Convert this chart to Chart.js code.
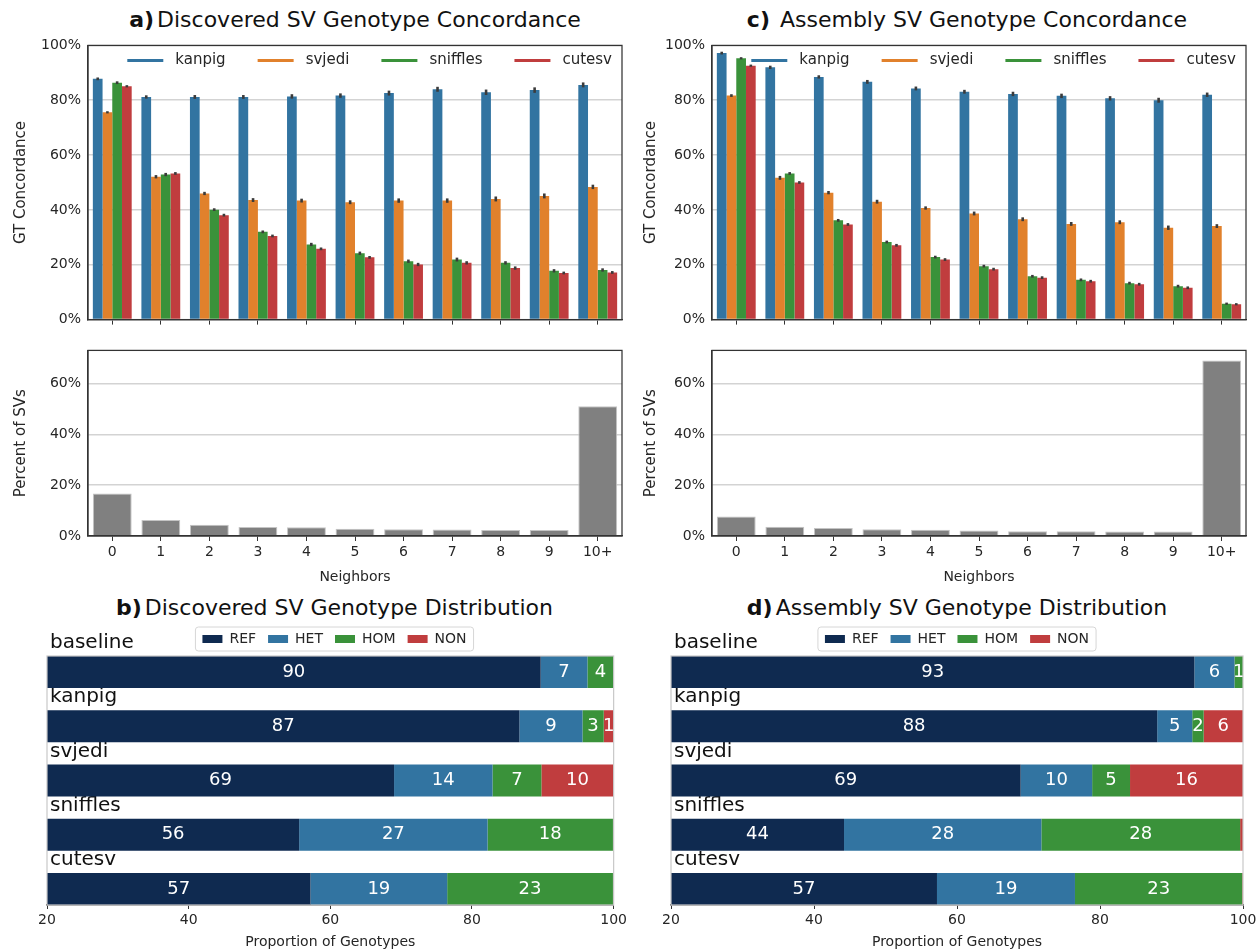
<!DOCTYPE html>
<html>
<head>
<meta charset="utf-8">
<script src="https://cdn.jsdelivr.net/npm/chart.js@4.4.1/dist/chart.umd.min.js"></script>
<style>
  body { margin: 0; background: #fff; }
  #fig { position: relative; width: 1260px; height: 951px; font-family: 'DejaVu Sans', sans-serif; color: #111; }
  #fig canvas { position: absolute; }
  .ttl { position: absolute; font-size: 22px; line-height: 28px; text-align: center; white-space: nowrap; }
  .ttl b { margin-right: 3px; }
</style>
</head>
<body>
<div id="fig">
  <div class="ttl" style="left:88px;top:6px;width:534px"><b>a)</b>Discovered SV Genotype Concordance</div>
  <div class="ttl" style="left:700px;top:6px;width:534px"><b>c)</b> Assembly SV Genotype Concordance</div>
  <div class="ttl" style="left:47px;top:594px;width:575px"><b>b)</b>Discovered SV Genotype Distribution</div>
  <div class="ttl" style="left:671px;top:594px;width:572px"><b>d)</b>Assembly SV Genotype Distribution</div>

  <canvas id="concA" width="630" height="305" style="left:0;top:30px"></canvas>
  <canvas id="nbA" width="630" height="252" style="left:0;top:335px"></canvas>
  <canvas id="concC" width="630" height="305" style="left:630px;top:30px"></canvas>
  <canvas id="nbC" width="630" height="252" style="left:630px;top:335px"></canvas>
  <canvas id="distB" width="630" height="331" style="left:0;top:620px"></canvas>
  <canvas id="distD" width="630" height="331" style="left:630px;top:620px"></canvas>
</div>
<script>
// ── Data ───────────────────────────────────────────────────────────────
const NEIGHBORS = ["0", "1", "2", "3", "4", "5", "6", "7", "8", "9", "10+"];
const TOOLS = ["kanpig", "svjedi", "sniffles", "cutesv"];

// a) discovered SVs, GT concordance (%) and error half-widths
const A_KANPIG   = [87.8, 81.2, 81.2, 81.2, 81.4, 81.7, 82.6, 84.0, 82.9, 83.7, 85.6];
const A_SVJEDI   = [75.6, 52.1, 46.0, 43.6, 43.4, 42.8, 43.4, 43.4, 44.0, 45.1, 48.4];
const A_SNIFFLES = [86.4, 52.9, 40.1, 32.0, 27.4, 24.2, 21.3, 21.9, 20.7, 17.8, 18.1];
const A_CUTESV   = [85.1, 53.3, 38.1, 30.5, 25.8, 22.7, 20.1, 20.7, 18.8, 17.0, 17.2];
const A_KANPIG_ERR   = [0.5, 0.6, 0.7, 0.7, 0.8, 0.8, 0.9, 0.9, 1.0, 1.0, 0.9];
const A_SVJEDI_ERR   = [0.4, 0.6, 0.6, 0.7, 0.7, 0.7, 0.8, 0.8, 0.9, 0.9, 0.8];
const A_SNIFFLES_ERR = [0.5, 0.6, 0.5, 0.5, 0.6, 0.6, 0.6, 0.7, 0.6, 0.6, 0.6];
const A_CUTESV_ERR   = [0.4, 0.5, 0.5, 0.5, 0.5, 0.5, 0.6, 0.6, 0.6, 0.5, 0.5];

// c) assembly SVs
const C_KANPIG   = [97.2, 92.0, 88.5, 86.7, 84.3, 83.1, 82.3, 81.6, 80.7, 80.0, 82.0];
const C_SVJEDI   = [81.7, 51.7, 46.3, 43.0, 40.7, 38.7, 36.6, 34.9, 35.5, 33.5, 34.1];
const C_SNIFFLES = [95.3, 53.3, 36.2, 28.3, 22.8, 19.5, 15.8, 14.5, 13.3, 12.2, 5.8];
const C_CUTESV   = [92.6, 50.0, 34.7, 27.1, 21.9, 18.4, 15.3, 14.0, 12.9, 11.6, 5.6];
const C_KANPIG_ERR   = [0.5, 0.6, 0.6, 0.7, 0.7, 0.7, 0.8, 0.8, 0.8, 0.9, 0.8];
const C_SVJEDI_ERR   = [0.5, 0.7, 0.6, 0.7, 0.6, 0.7, 0.7, 0.7, 0.7, 0.8, 0.7];
const C_SNIFFLES_ERR = [0.4, 0.5, 0.5, 0.5, 0.5, 0.5, 0.5, 0.5, 0.5, 0.5, 0.4];
const C_CUTESV_ERR   = [0.4, 0.5, 0.5, 0.5, 0.5, 0.5, 0.5, 0.5, 0.5, 0.5, 0.4];

// share of SVs per neighbour count (%)
const A_PCT = [16.7, 6.3, 4.4, 3.5, 3.4, 2.9, 2.7, 2.6, 2.4, 2.4, 51.0];
const C_PCT = [7.7, 3.6, 3.1, 2.7, 2.5, 2.2, 1.9, 1.9, 1.8, 1.8, 69.0];

// b/d) genotype distribution (% of genotypes)
const CALLERS = ["baseline", "kanpig", "svjedi", "sniffles", "cutesv"];
const GT = ["REF", "HET", "HOM", "NON"];
const B_REF = [89.7, 86.7, 69.0, 55.6, 57.2];
const B_HET = [6.6, 8.9, 13.9, 26.6, 19.3];
const B_HOM = [3.7, 3.0, 6.9, 17.7, 23.4];
const B_NON = [0.0, 1.4, 10.2, 0.1, 0.1];
const D_REF = [93.2, 88.0, 68.9, 44.2, 57.2];
const D_HET = [5.6, 4.9, 10.0, 27.6, 19.3];
const D_HOM = [1.2, 1.6, 5.3, 27.8, 23.4];
const D_NON = [0.0, 5.5, 15.8, 0.4, 0.1];

// ── Look ──────────────────────────────────────────────────────────────
Chart.defaults.font.family = "'DejaVu Sans', sans-serif";
Chart.defaults.color = "#262626";
Chart.defaults.animation = false;
const INK = "#262626";
const SPINE = "#333";
const GRID = "#d3d3d3";
const TOOL_COL = ["#3274a1", "#e1812c", "#3a923a", "#c03d3e"];
const GT_COL = ["#0f2a50", "#3274a1", "#3a923a", "#c03d3e"];

// ── Small plugins ─────────────────────────────────────────────────────
const frame = {                           // box round the plot area
  id: "frame",
  afterDraw(chart, _a, o) {
    if (!o.color) return;
    const { ctx, chartArea: a } = chart;
    ctx.save();
    ctx.strokeStyle = o.color; ctx.lineWidth = o.width;
    ctx.strokeRect(a.left, a.top, a.right - a.left, a.bottom - a.top);
    ctx.restore();
  },
};

const errBars = {                         // +/- err whiskers on each bar
  id: "errBars",
  afterDatasetsDraw(chart) {
    const { ctx, scales: { y } } = chart;
    ctx.save();
    ctx.strokeStyle = "#3b3b3b"; ctx.lineWidth = 2.6;
    chart.data.datasets.forEach((ds, di) => {
      if (!ds.err) return;
      chart.getDatasetMeta(di).data.forEach((bar, i) => {
        const v = ds.data[i], e = ds.err[i];
        ctx.beginPath();
        ctx.moveTo(bar.x, y.getPixelForValue(v - e));
        ctx.lineTo(bar.x, y.getPixelForValue(v + e));
        ctx.stroke();
      });
    });
    ctx.restore();
  },
};

const lineLegend = {                      // matplotlib-style line legend inside the axes
  id: "lineLegend",
  afterDraw(chart, _a, o) {
    if (!o.show) return;
    const { ctx, chartArea: a } = chart;
    ctx.save();
    ctx.font = "15px 'DejaVu Sans'";
    ctx.textBaseline = "middle";
    const items = chart.data.datasets.map((d) => ({ t: d.label, c: d.backgroundColor, w: ctx.measureText(d.label).width }));
    const total = items.reduce((s, it) => s + 48 + it.w, 0) + 32 * (items.length - 1);
    let x = a.right - 10 - total;
    const y = a.top + 15;
    items.forEach((it) => {
      ctx.strokeStyle = it.c; ctx.lineWidth = 3;
      ctx.beginPath(); ctx.moveTo(x, y); ctx.lineTo(x + 36, y); ctx.stroke();
      ctx.fillStyle = INK; ctx.fillText(it.t, x + 48, y);
      x += 48 + it.w + 32;
    });
    ctx.restore();
  },
};

const segLabels = {                       // rounded value centred in the visible part of a segment
  id: "segLabels",
  afterDatasetsDraw(chart) {
    const { ctx, chartArea: a } = chart;
    ctx.save();
    ctx.beginPath(); ctx.rect(a.left, a.top, a.right - a.left, a.bottom - a.top); ctx.clip();
    ctx.font = "18px 'DejaVu Sans'"; ctx.fillStyle = "#fff";
    ctx.textAlign = "center"; ctx.textBaseline = "middle";
    chart.data.datasets.forEach((ds, di) => {
      chart.getDatasetMeta(di).data.forEach((bar, i) => {
        const n = Math.round(ds.data[i].x);
        if (n < 1) return;
        const l = Math.max(Math.min(bar.x, bar.base), a.left);
        const r = Math.min(Math.max(bar.x, bar.base), a.right);
        if (r <= l) return;
        ctx.fillText(String(n), (l + r) / 2, bar.y);
      });
    });
    ctx.restore();
  },
};

const legendBox = {                       // thin rounded frame round the legend
  id: "legendBox",
  afterDraw(chart) {
    const hb = chart.legend && chart.legend.legendHitBoxes;
    if (!hb || !hb.length) return;
    const l = Math.min(...hb.map((h) => h.left)) - 7;
    const r = Math.max(...hb.map((h) => h.left + h.width)) + 7;
    const t = hb[0].top - 5, b = hb[0].top + hb[0].height + 5;
    const { ctx } = chart;
    ctx.save();
    ctx.strokeStyle = "#d6d6d6"; ctx.lineWidth = 1;
    ctx.beginPath(); ctx.roundRect(l, t, r - l, b - t, 3); ctx.stroke();
    ctx.restore();
  },
};

// ── Chart builders ────────────────────────────────────────────────────
function concChart(id, series, errs, yWidth, padRight) {
  return new Chart(document.getElementById(id), {
    type: "bar",
    data: {
      labels: NEIGHBORS,
      datasets: TOOLS.map((name, k) => ({
        label: name, data: series[k], err: errs[k],
        backgroundColor: TOOL_COL[k], categoryPercentage: 0.8, barPercentage: 1,
      })),
    },
    options: {
      responsive: false,
      layout: { padding: { left: 0, right: padRight, top: 10, bottom: 0 } },
      plugins: {
        legend: { display: false }, tooltip: { enabled: false },
        frame: { color: SPINE, width: 1.25 }, lineLegend: { show: true },
      },
      scales: {
        x: {
          ticks: { display: false },
          grid: { drawOnChartArea: false, offset: false, tickLength: 5, tickColor: SPINE },
          border: { color: SPINE, width: 1.25 },
          afterFit: (s) => { s.height = 9; },
        },
        y: {
          min: 0, max: 100,
          ticks: { stepSize: 20, callback: (v) => v + "%", font: { size: 14 }, padding: 7, color: INK },
          grid: { color: GRID, lineWidth: 1.5, drawTicks: false },
          border: { color: SPINE, width: 1.25 },
          title: { display: true, text: "GT Concordance", font: { size: 15 }, color: INK, padding: { top: 12, bottom: 0 } },
          afterFit: (s) => { s.width = yWidth; },
        },
      },
    },
    plugins: [frame, errBars, lineLegend],
  });
}

function neighborChart(id, pct, yWidth, padRight) {
  return new Chart(document.getElementById(id), {
    type: "bar",
    data: {
      labels: NEIGHBORS,
      datasets: [{
        data: pct, backgroundColor: "#808080", borderColor: "#c4c4c4", borderWidth: 1,
        categoryPercentage: 0.8, barPercentage: 1,
      }],
    },
    options: {
      responsive: false,
      layout: { padding: { left: 0, right: padRight, top: 8, bottom: 0 } },
      plugins: { legend: { display: false }, tooltip: { enabled: false }, frame: { color: SPINE, width: 1.25 } },
      scales: {
        x: {
          ticks: { font: { size: 14 }, padding: 3, color: INK },
          grid: { drawOnChartArea: false, offset: false, tickLength: 5, tickColor: SPINE },
          border: { color: SPINE, width: 1.25 },
          title: { display: true, text: "Neighbors", font: { size: 14 }, color: INK, padding: { top: 0, bottom: 1 } },
          afterFit: (s) => { s.height = 51; },
        },
        y: {
          min: 0, max: 73,
          ticks: { stepSize: 20, includeBounds: false, callback: (v) => v + "%", font: { size: 14 }, padding: 7, color: INK },
          grid: { color: GRID, lineWidth: 1.5, drawTicks: false },
          border: { color: SPINE, width: 1.25 },
          title: { display: true, text: "Percent of SVs", font: { size: 15 }, color: INK, padding: { top: 12, bottom: 0 } },
          afterFit: (s) => { s.width = yWidth; },
        },
      },
    },
    plugins: [frame],
  });
}

function distChart(id, parts, padLeft, padRight) {
  return new Chart(document.getElementById(id), {
    type: "bar",
    data: {
      datasets: GT.map((g, k) => ({
        label: g, data: parts[k].map((v, i) => ({ x: v, y: i })),
        backgroundColor: GT_COL[k], categoryPercentage: 1, barPercentage: 0.59,
      })),
    },
    options: {
      indexAxis: "y",
      responsive: false,
      layout: { padding: { left: padLeft, right: padRight, top: 0, bottom: 0 } },
      plugins: {
        legend: { labels: { boxWidth: 20, boxHeight: 8, padding: 12, font: { size: 14 }, color: INK } },
        tooltip: { enabled: false },
        frame: { color: "#c8c8c8", width: 1.2 },
      },
      scales: {
        x: {
          type: "linear", stacked: true, min: 20, max: 100,
          ticks: { stepSize: 20, font: { size: 14 }, padding: 3, color: INK },
          grid: { drawOnChartArea: false, tickLength: 4, tickColor: SPINE },
          border: { color: SPINE, width: 1.5 },
          title: { display: true, text: "Proportion of Genotypes", font: { size: 14 }, color: INK, padding: { top: 0, bottom: 0 } },
          afterFit: (s) => { s.height = 46; },
        },
        y: {
          type: "linear", stacked: true, reverse: true, offset: false, min: -0.295, max: 4.295,
          afterBuildTicks: (s) => { s.ticks = CALLERS.map((_, i) => ({ value: i })); },
          ticks: {
            mirror: true, labelOffset: -29, padding: 3, autoSkip: false,
            font: { size: 20 }, color: "#111", callback: (v) => CALLERS[v],
          },
          grid: { display: false },
          border: { display: false },
          afterFit: (s) => { s.width = 0; },
        },
      },
    },
    plugins: [segLabels, frame, legendBox],
  });
}

concChart("concA", [A_KANPIG, A_SVJEDI, A_SNIFFLES, A_CUTESV],
  [A_KANPIG_ERR, A_SVJEDI_ERR, A_SNIFFLES_ERR, A_CUTESV_ERR], 88, 8);
concChart("concC", [C_KANPIG, C_SVJEDI, C_SNIFFLES, C_CUTESV],
  [C_KANPIG_ERR, C_SVJEDI_ERR, C_SNIFFLES_ERR, C_CUTESV_ERR], 82, 14);
neighborChart("nbA", A_PCT, 88, 8);
neighborChart("nbC", C_PCT, 82, 14);
distChart("distB", [B_REF, B_HET, B_HOM, B_NON], 47, 8);
distChart("distD", [D_REF, D_HET, D_HOM, D_NON], 41, 17);
</script>
</body>
</html>
